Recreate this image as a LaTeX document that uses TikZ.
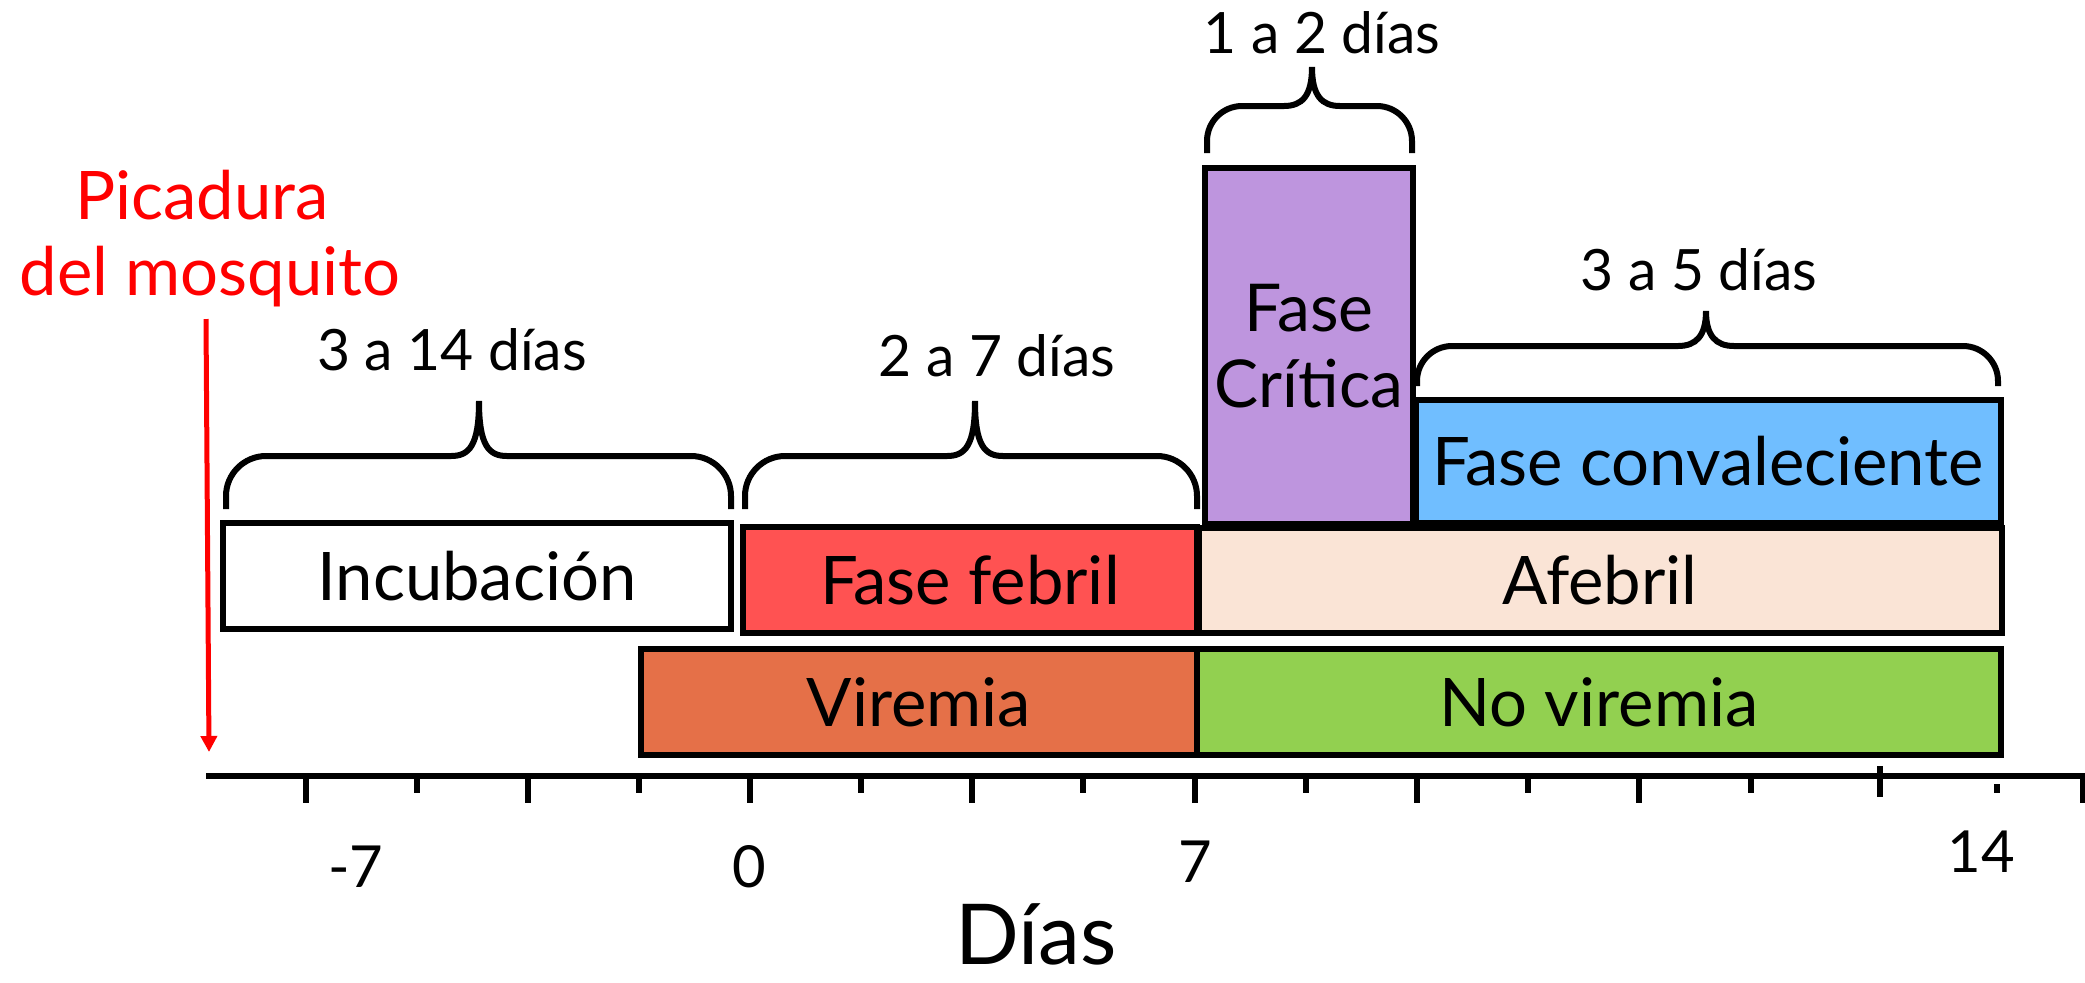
\documentclass[tikz,border=0pt]{standalone}
\usepackage{fontspec}
\setmainfont{Lato}
\usetikzlibrary{arrows.meta}
\definecolor{febril}{RGB}{255,82,82}
\definecolor{afebril}{RGB}{250,228,214}
\definecolor{viremia}{RGB}{229,112,72}
\definecolor{noviremia}{RGB}{146,208,80}
\definecolor{critica}{RGB}{190,149,222}
\definecolor{convalec}{RGB}{112,190,255}
\definecolor{picred}{RGB}{255,0,0}
\newcommand{\tlbrace}[7]{%
  \draw[bracepath] (#1,#4) -- (#1,#5+#7) .. controls (#1,#5+0.45*#7) and (#1+0.45*#7,#5) .. (#1+#7,#5)
    -- (#3-28,#5) .. controls (#3-10,#5) and (#3,#5-10) .. (#3,#6)
    .. controls (#3,#5-10) and (#3+10,#5) .. (#3+28,#5)
    -- (#2-#7,#5) .. controls (#2-0.45*#7,#5) and (#2,#5+0.45*#7) .. (#2,#5+#7) -- (#2,#4);}
\begin{document}
\begin{tikzpicture}[x=0.5pt,y=-0.5pt,
  phase/.style={draw=black, line width=3pt, inner sep=0pt, outer sep=0pt, align=center,
    font=\fontsize{33.5}{38}\selectfont},
  bracelabel/.style={font=\fontsize{28.5}{32}\selectfont, anchor=base, inner sep=0pt},
  bracepath/.style={draw=black, line width=3pt},
  axislabel/.style={font=\fontsize{29}{33}\selectfont, anchor=base, inner sep=0pt},
  redlabel/.style={font=\fontsize{33.5}{38}\selectfont, text=picred, anchor=base, inner sep=0pt},
  longtick/.style={line width=2.6pt},
]
\useasboundingbox (0,0) rectangle (2085,982);
\fill[white] (0,0) rectangle (2085,982);

% phase boxes
\node[phase, fill=white, minimum width=254pt, minimum height=53pt] (incub) at (477,576) {Incubación};
\node[phase, fill=febril, minimum width=227pt, minimum height=53pt] (febril) at (970,580) {Fase febril};
\node[phase, fill=afebril, minimum width=401.5pt, minimum height=52.5pt] (afebril) at (1600,580) {Afebril};
\node[phase, fill=viremia, minimum width=278pt, minimum height=53pt] (viremia) at (919,702) {Viremia};
\node[phase, fill=noviremia, minimum width=402pt, minimum height=53pt] (noviremia) at (1599,702) {No viremia};
\node[phase, fill=critica, minimum width=104pt, minimum height=178pt, font=\fontsize{33}{38}\selectfont] (critica) at (1309,346) {Fase\\Crítica};
\node[phase, fill=convalec, minimum width=292.5pt, minimum height=61.5pt] (convalec) at (1708,461) {Fase convaleciente};

% braces
\tlbrace{226}{731}{479}{509}{456}{401}{40}
\tlbrace{745}{1197}{975}{509}{456}{401}{40}
\tlbrace{1207}{1412}{1312}{153}{106}{67}{35}
\tlbrace{1417}{1998}{1706}{386}{346}{311}{35}

\node[bracelabel] (b1) at (452,370) {3 a 14 días};
\node[bracelabel] (b2) at (997,376) {2 a 7 días};
\node[bracelabel] (b3) at (1322,53) {1 a 2 días};
\node[bracelabel] (b4) at (1699,290) {3 a 5 días};

% axis
\draw[line width=3pt] (206,776) -- (2085,776);
\foreach \x in {306,528,750,972,1195,1417,1639,2083} \draw[longtick] (\x,776) -- (\x,803);
\foreach \x in {417,639,861,1083,1306,1528,1751} \draw[longtick] (\x,776) -- (\x,793);
\draw[longtick] (1880,766) -- (1880,797);
\draw[longtick] (1997,784) -- (1997,793);

\node[axislabel] (lm7) at (356,887) {-7};
\node[axislabel] (l0) at (749,887) {0};
\node[axislabel] (l7) at (1195,882) {7};
\node[axislabel] (l14) at (1981,872) {14};
\node[font=\fontsize{42}{48}\selectfont, anchor=base, inner sep=0pt] (dias) at (1036,964) {Días};

% mosquito bite
\node[redlabel] (pic1) at (202,219) {Picadura};
\node[redlabel] (pic2) at (210,295) {del mosquito};
\coordinate (arrs) at (206,319);
\coordinate (arre) at (209,752);
\draw[picred, line width=2.5pt, -{Triangle[length=8pt,width=8pt]}] (arrs) -- (arre);
\end{tikzpicture}
\end{document}
